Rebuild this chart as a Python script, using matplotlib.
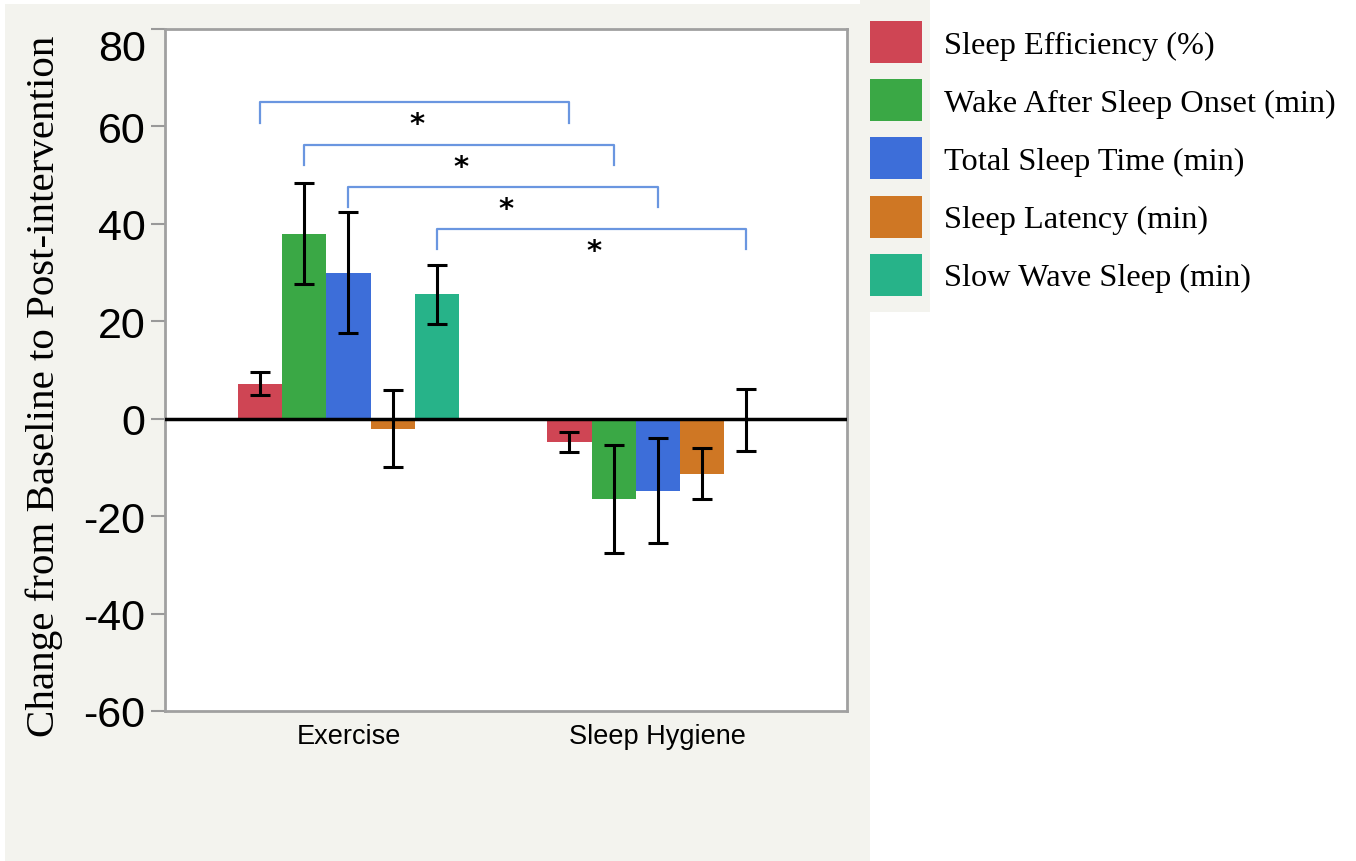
import numpy as np
import matplotlib
matplotlib.use("Agg")
from matplotlib import pyplot as plt
from matplotlib.patches import Rectangle

plt.rcParams['axes.unicode_minus'] = False

# data
groups = ['Exercise', 'Sleep Hygiene']
measures = ['Sleep Efficiency (%)', 'Wake After Sleep Onset (min)', 'Total Sleep Time (min)',
            'Sleep Latency (min)', 'Slow Wave Sleep (min)']
exercise_mean = [7.2, 38.0, 30.0, -2.1, 25.5]
exercise_err = [2.3, 10.4, 12.4, 7.9, 6.1]
hygiene_mean = [-4.8, -16.5, -14.8, -11.3, -0.2]
hygiene_err = [2.1, 11.1, 10.8, 5.2, 6.4]
colors = ['#cf4554', '#3aa845', '#3d6ed9', '#cf7724', '#27b389']

# significance brackets: (measure index, bracket height)
brackets = [(0, 65.0), (1, 56.2), (2, 47.6), (4, 39.0)]

fig = plt.figure(figsize=(13.56, 8.62), dpi=100)
fig.patch.set_facecolor('white')
# grey panels behind the plot and the legend swatches
fig.add_artist(Rectangle((5 / 1356, 0), 865 / 1356, 857 / 862, transform=fig.transFigure,
                         facecolor='#f3f3ee', edgecolor='none', zorder=-10))
fig.add_artist(Rectangle((860 / 1356, 1 - 313 / 862), 70 / 1356, 313 / 862, transform=fig.transFigure,
                         facecolor='#f3f3ee', edgecolor='none', zorder=-10))

ax = fig.add_axes([165 / 1356, 1 - 712 / 862, 682 / 1356, 682 / 862])
ax.set_facecolor('white')

x = np.arange(len(groups))
w = 0.143
handles = []
for i, m in enumerate(measures):
    xs = x + (i - 2) * w
    vals = [exercise_mean[i], hygiene_mean[i]]
    errs = [exercise_err[i], hygiene_err[i]]
    b = ax.bar(xs, vals, width=w, color=colors[i], edgecolor='none', label=m, zorder=2)
    ax.errorbar(xs, vals, yerr=errs, fmt='none', ecolor='black', elinewidth=2.2,
                capsize=7, capthick=2.2, zorder=4)
    handles.append(b)

ax.axhline(0, color='black', lw=2.5, zorder=3)

for i, h in brackets:
    x0 = x[0] + (i - 2) * w
    x1 = x[1] + (i - 2) * w
    ax.plot([x0, x0, x1, x1], [h - 4.2, h, h, h - 4.2], color='#6a96e0', lw=1.6, zorder=3)
    ax.text((x0 + x1) / 2 + 0.008, h - 4.6, '*', ha='center', va='center', fontsize=21,
            fontweight='bold', family='DejaVu Sans')

ax.set_xlim(-0.593, 1.611)
ax.set_ylim(-60, 80)
ax.set_yticks(np.arange(-60, 81, 20))
ax.set_xticks(x)
ax.set_xticklabels(groups, family='Liberation Sans', fontsize=19.5)
ax.tick_params(axis='x', length=0, pad=9)
ax.tick_params(axis='y', length=10, width=1.5, color='#999999', labelsize=31, pad=4)
for lab in ax.get_yticklabels():
    lab.set_family('Liberation Sans')
ax.get_yticklabels()[-1].set_va('top')
for s in ax.spines.values():
    s.set_color('#a0a0a0')
    s.set_linewidth(2)

ax.set_ylabel('Change from Baseline to Post-intervention', family='Liberation Serif',
              fontsize=29.5)
ax.yaxis.set_label_coords(-0.15, 0.478)

fig.legend(handles=handles, labels=measures, loc='upper left',
           bbox_to_anchor=(857 / 1356, 1 - 9 / 862), frameon=False,
           prop={'family': 'Liberation Serif', 'size': 23.3},
           handlelength=1.62, handleheight=1.62, labelspacing=0.5, handletextpad=0.68,
           borderaxespad=0)

fig.savefig('out.png', dpi=100)
